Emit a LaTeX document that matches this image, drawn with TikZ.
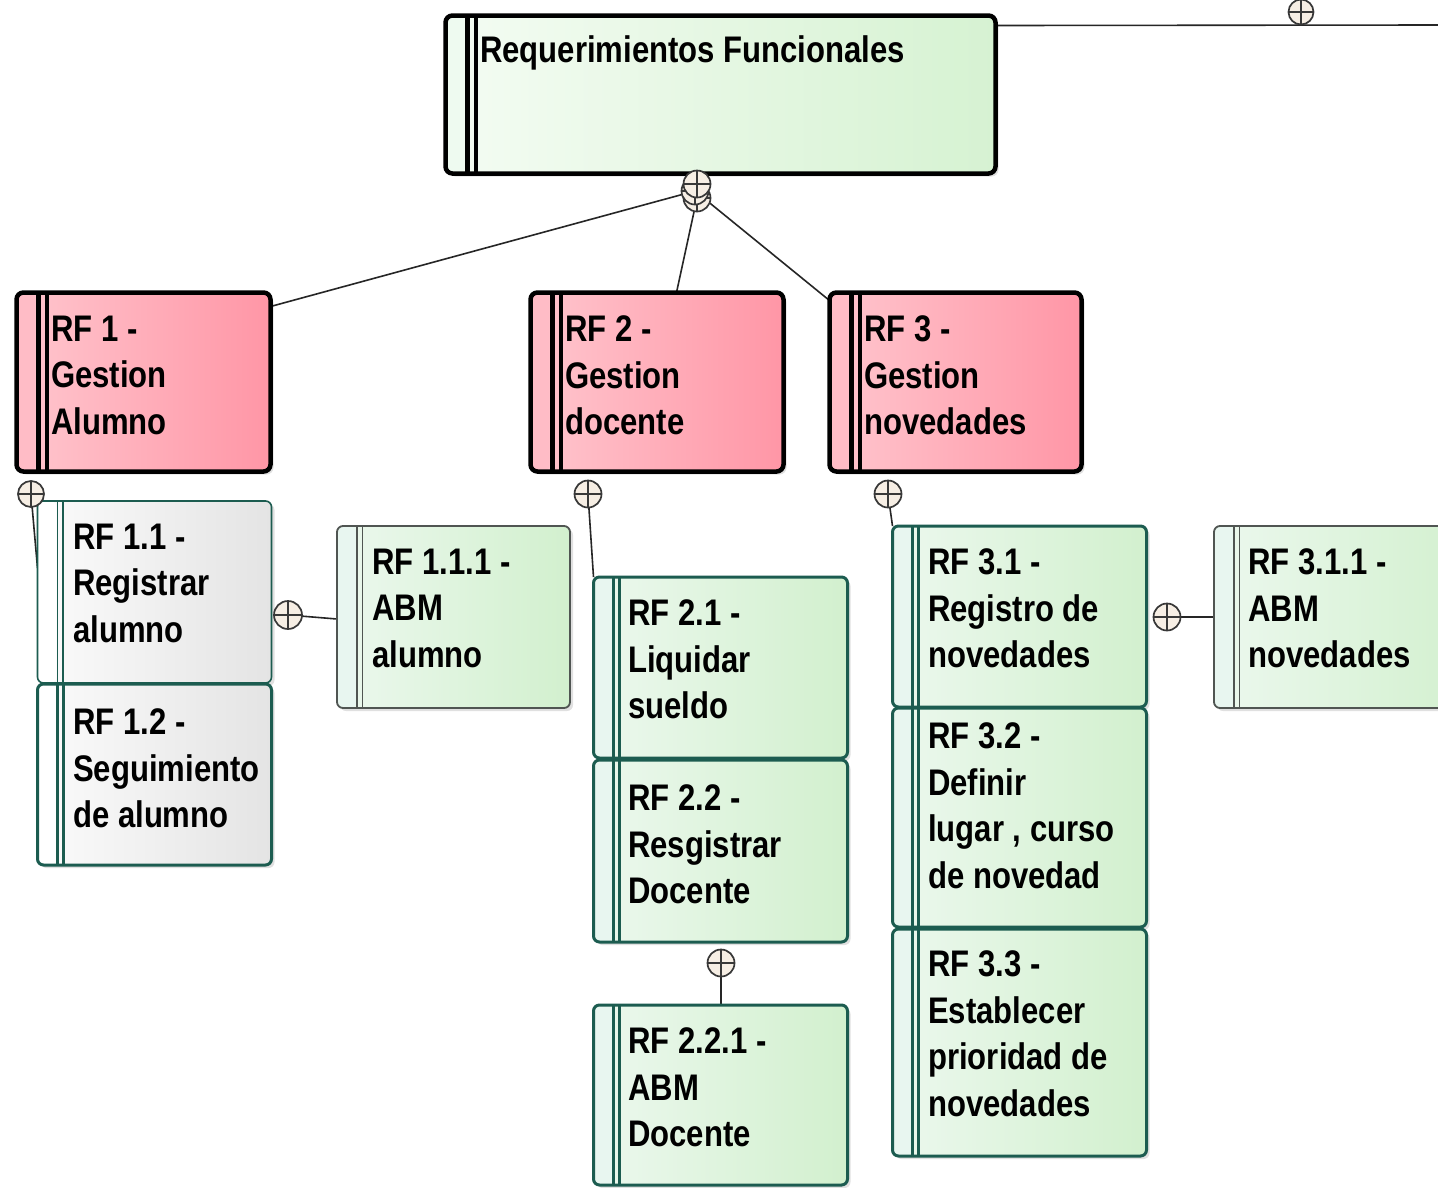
\documentclass[tikz,border=0pt]{standalone}
\usepackage{fontspec}
\setmainfont{Liberation Sans}[FakeStretch=0.84]
\usetikzlibrary{backgrounds,shadows}
\definecolor{pinkL}{RGB}{255,198,206}
\definecolor{pinkR}{RGB}{255,150,166}
\definecolor{pinkS}{RGB}{255,188,198}
\definecolor{topL}{RGB}{244,252,243}
\definecolor{topR}{RGB}{214,242,210}
\definecolor{topS}{RGB}{238,250,240}
\definecolor{grnL}{RGB}{236,248,238}
\definecolor{grnR}{RGB}{210,240,206}
\definecolor{grnS}{RGB}{232,246,240}
\definecolor{gryL}{RGB}{251,251,251}
\definecolor{gryR}{RGB}{228,228,228}
\definecolor{gryS}{RGB}{255,255,255}
\definecolor{tealB}{RGB}{28,92,80}
\definecolor{grayB}{RGB}{80,85,82}
\definecolor{cpfill}{RGB}{246,238,228}
\tikzset{
  boxbase/.style={rectangle, anchor=north west, inner sep=0pt, outer sep=0pt,
    drop shadow={shadow xshift=3pt, shadow yshift=-3pt, opacity=0.12, fill=black}},
  blkbox/.style n args={5}{boxbase, rounded corners=7pt, draw=black, line width=4.5pt,
    minimum width=#1, minimum height=#2, left color=#3, right color=#4,
    path picture={
      \fill[#5] (path picture bounding box.north west) rectangle ([xshift=19pt]path picture bounding box.south west);
      \draw[black, line width=5pt] ([xshift=21.5pt]path picture bounding box.north west) -- ([xshift=21.5pt]path picture bounding box.south west);
      \draw[black, line width=4pt] ([xshift=30pt]path picture bounding box.north west) -- ([xshift=30pt]path picture bounding box.south west);
    }},
  subbox/.style n args={7}{boxbase, rounded corners=6pt, draw=#6, line width=#7,
    minimum width=#1, minimum height=#2, left color=#3, right color=#4,
    path picture={
      \fill[#5] (path picture bounding box.north west) rectangle ([xshift=19pt]path picture bounding box.south west);
      \draw[#6, line width=#7] ([xshift=20pt]path picture bounding box.north west) -- ([xshift=20pt]path picture bounding box.south west);
      \draw[#6, line width=#7] ([xshift=25.5pt]path picture bounding box.north west) -- ([xshift=25.5pt]path picture bounding box.south west);
    }},
  txt/.style={anchor=north west, inner sep=0pt, align=left,
    font=\fontsize{37}{46.5}\selectfont\bfseries, text=black},
  conn/.style={draw=black!85, line width=1.6pt},
  cplus/.style={circle, draw=black!78, line width=1.7pt, fill=cpfill,
    minimum size=#1, inner sep=0pt, outer sep=0pt,
    path picture={\draw[black!78, line width=1.6pt]
      (path picture bounding box.north) -- (path picture bounding box.south)
      (path picture bounding box.west) -- (path picture bounding box.east);}},
  cplus/.default=27pt
}
\begin{document}
\begin{tikzpicture}[x=1pt,y=-1pt]
\useasboundingbox (0,0) rectangle (1438,1187);
\begin{scope}[on background layer]
\fill[white] (0,0) rectangle (1438,1187);
\end{scope}
\clip (0,0) rectangle (1438,1187);

% boxes
\node[blkbox={550pt}{158pt}{topL}{topR}{topS}] (top) at (445.5,15.5) {};
\node[blkbox={254pt}{179pt}{pinkL}{pinkR}{pinkS}] (rf1) at (16.5,292.5) {};
\node[blkbox={253pt}{179pt}{pinkL}{pinkR}{pinkS}] (rf2) at (530.5,292.5) {};
\node[blkbox={252pt}{179pt}{pinkL}{pinkR}{pinkS}] (rf3) at (829.5,292.5) {};

\node[subbox={234pt}{182pt}{gryL}{gryR}{gryS}{tealB}{1.6pt}] (rf11) at (37.5,501) {};
\node[subbox={234pt}{181pt}{gryL}{gryR}{gryS}{tealB}{3pt}] (rf12) at (37.5,684) {};
\node[subbox={233pt}{182pt}{grnL}{grnR}{grnS}{grayB}{1.8pt}] (rf111) at (337,526) {};
\node[subbox={254pt}{181pt}{grnL}{grnR}{grnS}{tealB}{3pt}] (rf21) at (593.5,577) {};
\node[subbox={254pt}{182pt}{grnL}{grnR}{grnS}{tealB}{3pt}] (rf22) at (593.5,760) {};
\node[subbox={254pt}{180pt}{grnL}{grnR}{grnS}{tealB}{3pt}] (rf221) at (593.5,1005) {};
\node[subbox={254pt}{181pt}{grnL}{grnR}{grnS}{tealB}{3pt}] (rf31) at (892.5,526) {};
\node[subbox={254pt}{219pt}{grnL}{grnR}{grnS}{tealB}{3pt}] (rf32) at (892.5,708) {};
\node[subbox={254pt}{227pt}{grnL}{grnR}{grnS}{tealB}{3pt}] (rf33) at (892.5,929) {};
\node[subbox={260pt}{182pt}{grnL}{grnR}{grnS}{grayB}{1.8pt}] (rf311) at (1214,526) {};

% texts
\node[txt] (t-top) at (480,35.5) {Requerimientos Funcionales};
\node[txt] (t-rf1) at (51,315.5) {RF 1 -\\Gestion\\Alumno};
\node[txt] (t-rf2) at (565,315.5) {RF 2 -\\Gestion\\docente};
\node[txt] (t-rf3) at (864,315.5) {RF 3 -\\Gestion\\novedades};
\node[txt] (t-rf11) at (73,523.5) {RF 1.1 -\\Registrar\\alumno};
\node[txt] (t-rf12) at (73,708.5) {RF 1.2 -\\Seguimiento\\de alumno};
\node[txt] (t-rf111) at (372,548.5) {RF 1.1.1 -\\ABM\\alumno};
\node[txt] (t-rf21) at (628,599.5) {RF 2.1 -\\Liquidar\\sueldo};
\node[txt] (t-rf22) at (628,784.5) {RF 2.2 -\\Resgistrar\\Docente};
\node[txt] (t-rf221) at (628,1027.5) {RF 2.2.1 -\\ABM\\Docente};
\node[txt] (t-rf31) at (928,548.5) {RF 3.1 -\\Registro de\\novedades};
\node[txt] (t-rf32) at (928,722.5) {RF 3.2 -\\Definir\\lugar , curso\\de novedad};
\node[txt] (t-rf33) at (928,950.5) {RF 3.3 -\\Establecer\\prioridad de\\novedades};
\node[txt] (t-rf311) at (1248,548.5) {RF 3.1.1 -\\ABM\\novedades};

% circle-plus markers
\node[cplus] (p0c) at (697,198) {};
\node[cplus] (p0b) at (695,191) {};
\node[cplus] (p0) at (697,184) {};
\node[cplus=25pt] (pR) at (1301,12) {};
\node[cplus=26pt] (p1) at (31,494) {};
\node[cplus=28pt] (p11) at (288,615) {};
\node[cplus] (p2) at (588,494) {};
\node[cplus] (p22) at (721,963) {};
\node[cplus] (p3) at (888,494) {};
\node[cplus] (p31) at (1167,617) {};
\coordinate (edgeR) at (1438,25);

% connectors (behind)
\begin{scope}[on background layer]
\draw[conn] (p0b) -- ([yshift=-14pt]rf1.north east);
\draw[conn] (p0c) -- ([xshift=146pt]rf2.north west);
\draw[conn] (p0b) -- ([yshift=-8pt]rf3.north west);
\draw[conn] ([yshift=-10pt]top.north east) -- (edgeR);
\draw[conn] (p1) -- ([yshift=-67pt]rf11.north west);
\draw[conn] (p11) -- ([yshift=-93pt]rf111.north west);
\draw[conn] (p2) -- (rf21.north west);
\draw[conn] (p22) -- (p22 |- rf221.north);
\draw[conn] (p3) -- (rf31.north west);
\draw[conn] (p31) -- (p31 -| rf311.west);
\end{scope}
\end{tikzpicture}
\end{document}
